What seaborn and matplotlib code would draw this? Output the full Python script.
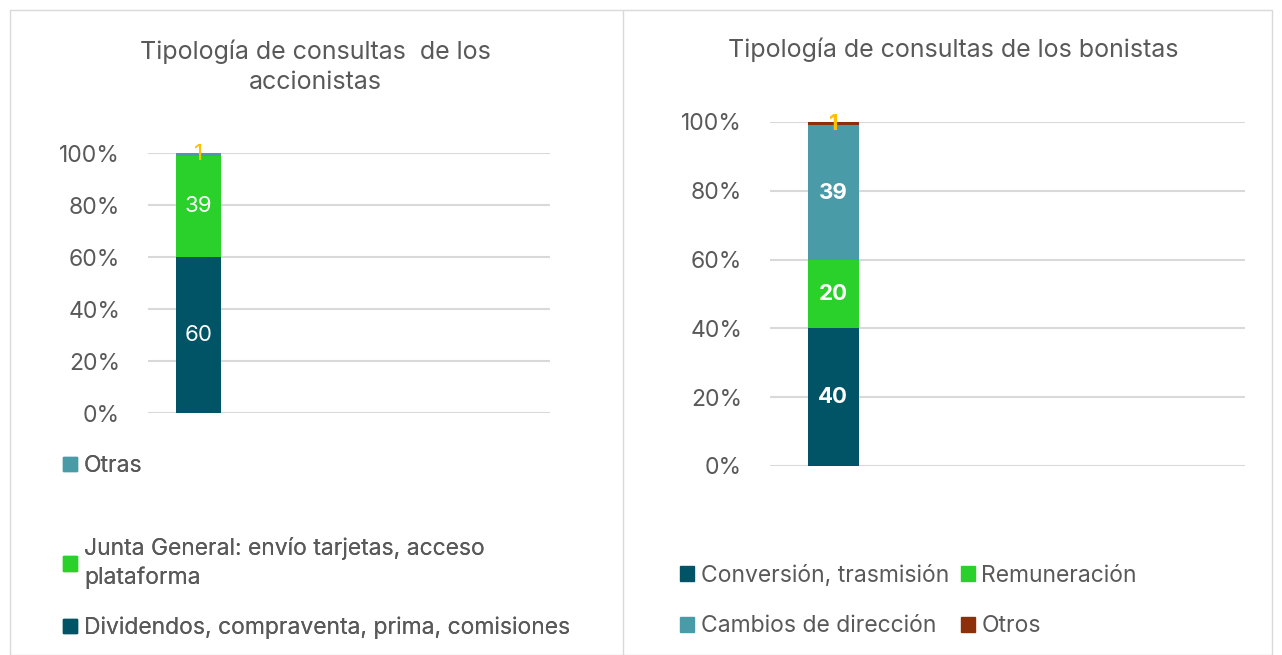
import pandas as pd
import numpy as np
import seaborn as sns
import matplotlib.pyplot as plt
from matplotlib.patches import Patch, Rectangle
from matplotlib.lines import Line2D

# data
acc_labels = ['Dividendos, compraventa, prima, comisiones',
              'Junta General: envío tarjetas, acceso\nplataforma',
              'Otras']
acc_values = [60, 39, 1]
acc_colors = ['#015366', '#2BD12B', '#4A9BA8']

bon_labels = ['Conversión, trasmisión', 'Remuneración', 'Cambios de dirección', 'Otros']
bon_values = [40, 20, 39, 1]
bon_colors = ['#015366', '#2BD12B', '#4A9BA8', '#8B300B']

sns.set_theme(style='white')
plt.rcParams['font.family'] = ['Inter', 'DejaVu Sans']
txt = '#595959'
W, H = 1282, 655
fig = plt.figure(figsize=(W / 100, H / 100), dpi=100)


def px_axes(left, top, right, bottom):
    return fig.add_axes([left / W, 1 - bottom / H, (right - left) / W, (bottom - top) / H])


def stacked(ax, values, colors, bold, xlim):
    tops = np.cumsum(values)
    # draw from tallest to shortest so each segment overlays the previous
    for i in reversed(range(len(values))):
        sns.barplot(x=['s'], y=[tops[i]], color=colors[i], width=0.8,
                    saturation=1, linewidth=0, ax=ax, zorder=3)
    for i, v in enumerate(values):
        mid = tops[i] - v / 2
        c = '#FFC000' if v < 5 else 'white'
        ax.text(0, mid, str(v), ha='center', va='center', color=c, fontsize=16,
                fontweight='bold' if bold else 'normal', zorder=4)
    ax.set_ylim(0, 100)
    ax.set_xlim(*xlim)
    ax.set_yticks(range(0, 101, 20))
    ax.set_yticklabels([f'{t}%' for t in range(0, 101, 20)], fontsize=16.5, color=txt)
    ax.yaxis.grid(True, color='#d9d9d9', linewidth=1.5, zorder=0)
    ax.set_axisbelow(True)
    ax.set_xticks([])
    ax.set_xlabel('')
    ax.set_ylabel('')
    ax.tick_params(axis='y', length=0, pad=20)
    for s in ax.spines.values():
        s.set_visible(False)


ax1 = px_axes(148, 153, 550, 413)
stacked(ax1, acc_values, acc_colors, False, (-0.9, 6.3))
ax2 = px_axes(770, 122, 1245, 466)
stacked(ax2, bon_values, bon_colors, True, (-1.0, 6.5))

fig.text(315 / W, 1 - 67 / H, 'Tipología de consultas  de los\naccionistas', ha='center',
         va='center', fontsize=18, color=txt, linespacing=1.4)
fig.text(953 / W, 1 - 50 / H, 'Tipología de consultas de los bonistas', ha='center',
         va='center', fontsize=18, color=txt)

# left legend, one entry per block as in the reference
for lab, col, y in zip(acc_labels, acc_colors, [628, 563, 466]):
    leg = fig.legend(handles=[Patch(color=col, label=lab)], loc='center left',
                     bbox_to_anchor=(52 / W, 1 - y / H), frameon=False, fontsize=16.5,
                     handlelength=0.6, handleheight=0.6, handletextpad=0.3,
                     labelcolor=txt, borderpad=0)
    for t in leg.get_texts():
        t.set_linespacing(1.35)
    fig.add_artist(leg)

order = [0, 2, 1, 3]
fig.legend(handles=[Patch(color=bon_colors[i], label=bon_labels[i]) for i in order],
           loc='center left', bbox_to_anchor=(669 / W, 1 - 601 / H), ncol=2,
           frameon=False, fontsize=16.5, handlelength=0.6, handleheight=0.6,
           handletextpad=0.3, columnspacing=0.5, labelspacing=1.25,
           labelcolor=txt, borderpad=0)

# panel frame and divider
fig.add_artist(Rectangle((10 / W, 0), (W - 20) / W, 1 - 10 / H, transform=fig.transFigure,
                         fill=False, edgecolor='#d9d9d9', linewidth=1))
fig.add_artist(Line2D([623 / W, 623 / W], [0, 1 - 10 / H], transform=fig.transFigure,
                      color='#d9d9d9', linewidth=1))

fig.savefig('out.png', dpi=100)
